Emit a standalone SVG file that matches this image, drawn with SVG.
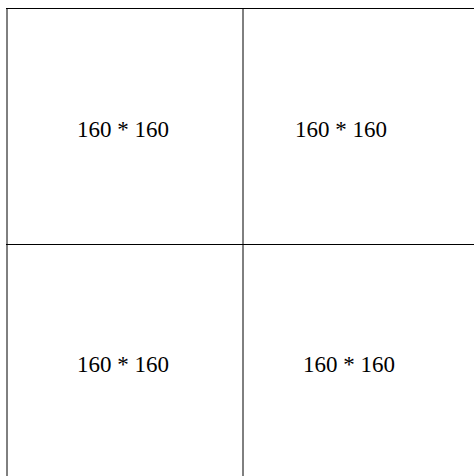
<svg xmlns="http://www.w3.org/2000/svg" width="474" height="476" viewBox="0 0 474 476">
<style>
.h{stroke:#000;stroke-width:1;fill:none}
.v{stroke:#000;stroke-width:1;fill:none}
.t{font-family:"Liberation Serif","Times New Roman",serif;font-size:23px;fill:#000}
</style>
<rect width="474" height="476" fill="#fff"/>
<g id="connectors">
<line class="h" x1="6" y1="8.5" x2="474" y2="8.5"/>
<line class="h" x1="6" y1="244.5" x2="474" y2="244.5"/>
<line class="v" x1="7" y1="8" x2="7" y2="476"/>
<line class="v" x1="243" y1="8" x2="243" y2="476"/>
</g>
<g id="cell1"><text class="t" x="77" y="137">160 * 160</text></g>
<g id="cell2"><text class="t" x="295" y="137">160 * 160</text></g>
<g id="cell3"><text class="t" x="77" y="372">160 * 160</text></g>
<g id="cell4"><text class="t" x="303" y="372">160 * 160</text></g>
</svg>
